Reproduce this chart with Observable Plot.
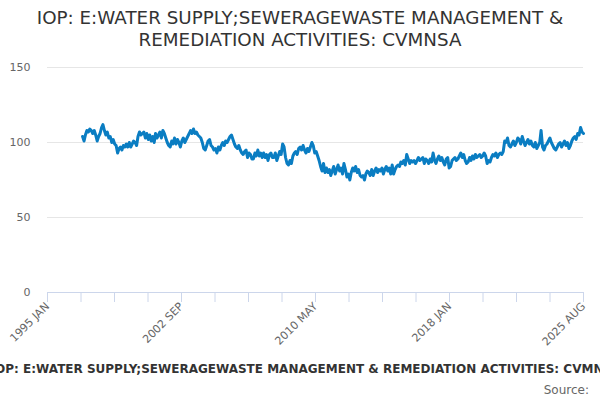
<!DOCTYPE html>
<html>
<head>
<meta charset="utf-8">
<script src="https://cdn.jsdelivr.net/npm/d3@7"></script>
<script src="https://cdn.jsdelivr.net/npm/@observablehq/plot@0.6"></script>
<style>
  html, body { margin: 0; padding: 0; background: #fff; }
  body { width: 600px; height: 400px; overflow: hidden; font-family: "DejaVu Sans", sans-serif; }
  #title { height: 55px; text-align: center; color: #333; font-size: 18.3px; line-height: 22px; padding-top: 7px; box-sizing: border-box; }
  #caption { display: flex; justify-content: center; white-space: nowrap; overflow: hidden; width: 600px; font-weight: bold; font-size: 12px; color: #333; margin-top: 12px; }
  #caption span { position: relative; left: 6px; }
  #source { text-align: right; padding-right: 11px; font-size: 12px; color: #666; margin-top: 7px; }
  svg { display: block; }
</style>
</head>
<body>
<div id="title">IOP: E:WATER SUPPLY;SEWERAGEWASTE MANAGEMENT &amp;<br>REMEDIATION ACTIVITIES: CVMNSA</div>
<div id="chart"></div>
<div id="caption"><span>IOP: E:WATER SUPPLY;SEWERAGEWASTE MANAGEMENT &amp; REMEDIATION ACTIVITIES: CVMNSA</span></div>
<div id="source">Source:</div>
<script>
const startYear = 1997;
const values1997 = [104, 101, 105, 108, 107, 109, 108, 106, 108, 105, 101, 104];
const values1998 = [106, 110, 112, 108, 105, 107, 103, 104, 100, 102, 99, 98];
const values1999 = [93, 96, 97, 95, 98, 97, 99, 97, 100, 97, 99, 101];
const values2000 = [100, 98, 104, 107, 105, 106, 107, 103, 106, 102, 105, 101];
const values2001 = [104, 100, 106, 103, 105, 107, 103, 108, 106, 103, 100, 98];
const values2002 = [97, 101, 99, 103, 99, 102, 100, 97, 101, 103, 100, 102];
const values2003 = [104, 106, 108, 106, 109, 106, 107, 105, 104, 103, 100, 96];
const values2004 = [95, 98, 101, 102, 98, 97, 95, 96, 93, 97, 95, 98];
const values2005 = [100, 98, 101, 100, 102, 104, 105, 102, 99, 97, 96, 98];
const values2006 = [95, 93, 92, 94, 95, 90, 93, 92, 89, 89, 93, 91];
const values2007 = [95, 91, 93, 90, 93, 90, 92, 88, 92, 93, 90, 90];
const values2008 = [93, 88, 91, 94, 92, 99, 97, 90, 86, 85, 88, 86];
const values2009 = [91, 93, 94, 92, 96, 97, 95, 98, 95, 93, 96, 94];
const values2010 = [97, 100, 98, 93, 94, 91, 88, 84, 81, 86, 80, 83];
const values2011 = [80, 82, 78, 81, 84, 79, 82, 85, 81, 83, 79, 86];
const values2012 = [82, 77, 79, 75, 80, 83, 81, 84, 80, 82, 78, 77];
const values2013 = [78, 75, 79, 81, 80, 78, 82, 78, 81, 83, 80, 82];
const values2014 = [81, 83, 79, 82, 84, 81, 83, 79, 85, 79, 82, 84];
const values2015 = [85, 84, 87, 86, 88, 85, 92, 89, 86, 88, 87, 88];
const values2016 = [86, 88, 90, 88, 89, 90, 86, 89, 88, 86, 89, 87];
const values2017 = [93, 88, 86, 89, 91, 88, 90, 87, 85, 89, 90, 83];
const values2018 = [84, 88, 89, 90, 88, 89, 91, 93, 90, 92, 88, 86];
const values2019 = [87, 90, 88, 91, 89, 92, 90, 91, 92, 90, 91, 93];
const values2020 = [91, 86, 88, 87, 90, 92, 91, 93, 90, 92, 93, 92];
const values2021 = [94, 101, 100, 103, 98, 97, 99, 101, 98, 100, 103, 102];
const values2022 = [99, 104, 101, 98, 100, 102, 99, 101, 98, 97, 100, 96];
const values2023 = [98, 100, 108, 97, 95, 98, 99, 101, 103, 100, 98, 96];
const values2024 = [95, 97, 99, 100, 97, 99, 101, 98, 100, 96, 98, 101];
const values2025 = [103, 104, 102, 106, 105, 110, 107, 106];

const yTicks = [0, 50, 100, 150];
const xTickLabels = ["1995 JAN", "2002 SEP", "2010 MAY", "2018 JAN", "2025 AUG"];
const axisStart = new Date(1995, 0, 1);
const axisEnd = new Date(2025, 7, 1);

const allYears = [values1997, values1998, values1999, values2000, values2001, values2002, values2003,
  values2004, values2005, values2006, values2007, values2008, values2009, values2010, values2011,
  values2012, values2013, values2014, values2015, values2016, values2017, values2018, values2019,
  values2020, values2021, values2022, values2023, values2024, values2025];

const data = [];
allYears.forEach((arr, yi) => arr.forEach((v, m) => data.push({date: new Date(startYear + yi, m, 1), value: v})));

const nIntervals = 16;
const tickDates = d3.range(nIntervals + 1).map(k => new Date(+axisStart + k * (axisEnd - axisStart) / nIntervals));
const labelFor = new Map(tickDates.map((d, k) => [+d, k % 4 === 0 ? xTickLabels[k / 4] : ""]));

const chart = Plot.plot({
  width: 600,
  height: 295,
  marginTop: 12,
  marginLeft: 47,
  marginRight: 17,
  marginBottom: 58,
  style: {fontFamily: "DejaVu Sans, sans-serif", fontSize: "11px", color: "#666", background: "#fff"},
  x: {type: "time", domain: [axisStart, axisEnd]},
  y: {domain: [0, 150]},
  marks: [
    Plot.gridY(yTicks.filter(t => t > 0), {stroke: "#e6e6e6", strokeOpacity: 1}),
    Plot.axisY(yTicks, {tickSize: 0, tickPadding: 17, fill: "#666", label: null}),
    Plot.ruleY([0], {stroke: "#ccd6eb", strokeWidth: 1}),
    Plot.axisX(tickDates, {tickSize: 10, stroke: "#ccd6eb", tickRotate: -45, tickPadding: 2, fill: "#666", tickFormat: d => labelFor.get(+d), label: null}),
    Plot.line(data, {x: "date", y: "value", stroke: "#0a7dc2", strokeWidth: 3, strokeLinejoin: "round", strokeLinecap: "round"})
  ]
});
document.getElementById("chart").appendChild(chart);
</script>
</body>
</html>
